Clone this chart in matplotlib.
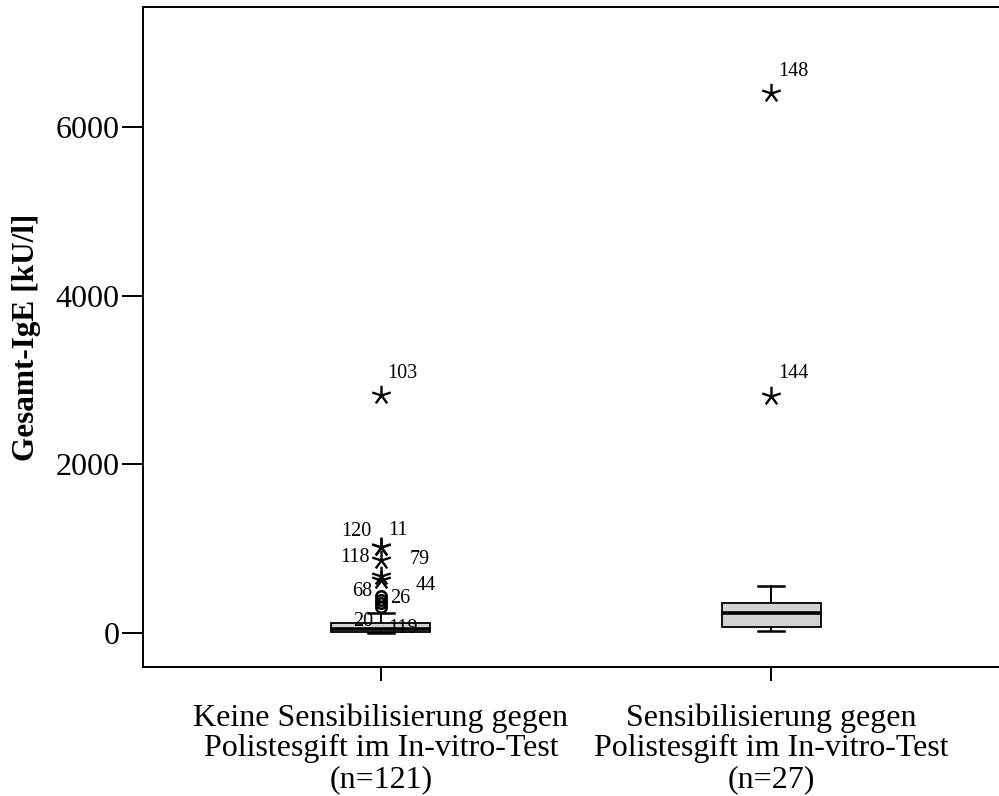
import numpy as np
import matplotlib
matplotlib.use("Agg")
import matplotlib.pyplot as plt
from matplotlib.path import Path

plt.rcParams["font.family"] = ["Liberation Serif", "DejaVu Serif"]

# group labels on the x axis
GROUPS = ["Keine Sensibilisierung gegen\nPolistesgift im In-vitro-Test\n(n=121)",
          "Sensibilisierung gegen\nPolistesgift im In-vitro-Test\n(n=27)"]

# box statistics per group (kU/l)
Q1 = [12, 71]
MEDIAN = [47, 237]
Q3 = [115, 356]
WHIS_LO = [0, 24]
WHIS_HI = [237, 557]

# outliers (circles) and extremes (stars)
OUT_GROUP = [1, 1, 1, 1]
OUT_VALUE = [440, 395, 350, 305]
EXT_GROUP = [1, 1, 1, 1, 1, 1, 2, 2]
EXT_VALUE = [1025, 1015, 866, 676, 629, 2823, 6404, 2811]

# case numbers printed next to the points: (group, value of the point, case)
CASE_GROUP = [1, 1, 1, 1, 1, 1, 1, 1, 1, 1, 2, 2]
CASE_VALUE = [1025, 1015, 866, 676, 629, 440, 395, 350, 305, 2823, 6404, 2811]
CASE_TEXT = ["120", "11", "118", "79", "44", "68", "26", "20", "119", "103",
             "148", "144"]
# label offsets from the point, in pixels (right, up)
CASE_OFFSET = [(-25, 15), (17, 17), (-26, 2), (39, 16), (45, -6), (-19, 4),
               (19, 1), (-18, -18), (22, -21), (21, 21), (22, 21), (22, 22)]

Y_TICKS = [0, 2000, 4000, 6000]


def star_marker():
    # five-armed asterisk
    verts, codes = [], []
    for a in np.deg2rad(90 + 72 * np.arange(5)):
        verts += [(0, 0), (np.cos(a), np.sin(a))]
        codes += [Path.MOVETO, Path.LINETO]
    return Path(verts, codes)


def main():
    fig = plt.figure(figsize=(9.99, 7.96), dpi=100)
    ax = fig.add_axes([143 / 999, 129 / 796, 866 / 999, 660 / 796])

    stats = [dict(q1=Q1[i], med=MEDIAN[i], q3=Q3[i], whislo=WHIS_LO[i],
                  whishi=WHIS_HI[i], fliers=[]) for i in range(len(GROUPS))]
    ax.bxp(stats, positions=[1, 2], widths=0.254, capwidths=0.067,
           patch_artist=True, showfliers=False,
           boxprops=dict(facecolor="#d3d3d3", edgecolor="black", lw=1.3),
           medianprops=dict(color="black", lw=2.6),
           whiskerprops=dict(color="black", lw=1.4),
           capprops=dict(color="black", lw=1.8))

    ax.plot(OUT_GROUP, OUT_VALUE, ls="none", marker="o", ms=7.5,
            mfc="none", mec="black", mew=1.8, zorder=4)
    ax.plot(EXT_GROUP, EXT_VALUE, ls="none", marker=star_marker(), ms=14,
            mec="black", mew=1.7, zorder=4)

    for g, v, t, (dx, dy) in zip(CASE_GROUP, CASE_VALUE, CASE_TEXT,
                                 CASE_OFFSET):
        ax.annotate(t, (g, v), xytext=(dx * 0.72, dy * 0.72),
                    textcoords="offset points", ha="center", va="center",
                    fontsize=14.5, zorder=5)

    ax.set_xlim(0.390, 2.610)
    ax.set_ylim(-403, 7420)
    ax.set_xticks([1, 2])
    ax.set_xticklabels(GROUPS, fontsize=23, linespacing=1.08)
    ax.set_yticks(Y_TICKS)
    ax.set_yticklabels([str(t) for t in Y_TICKS], fontsize=23)
    ax.tick_params(axis="y", direction="out", length=15, width=1.4, pad=2)
    ax.tick_params(axis="x", direction="out", length=10, width=1.4, pad=16)
    ax.set_ylabel("Gesamt-IgE [kU/l]", fontsize=22.5, fontweight="bold",
                  labelpad=10)
    for s in ax.spines.values():
        s.set_linewidth(1.4)
    ax.spines["right"].set_visible(False)

    fig.savefig("out.png", dpi=100)


if __name__ == "__main__":
    main()
